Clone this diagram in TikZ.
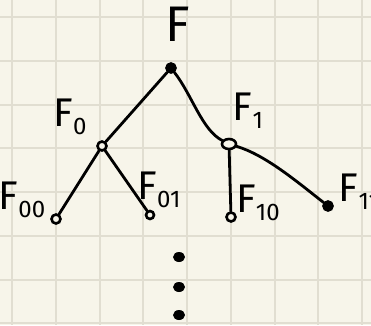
\documentclass[tikz,border=0pt]{standalone}
\usepackage{fontspec}
\setmainfont{Fira Sans}
\usetikzlibrary{shapes.geometric}
\definecolor{paper}{HTML}{F7F5EA}
\definecolor{gridline}{HTML}{E1DED1}
\newcommand{\lowidx}[1]{\raisebox{-0.2em}{\fontsize{24}{24}\selectfont #1}}
\begin{document}
\begin{tikzpicture}[x=1pt,y=-1pt,
  vtx/.style={circle,draw,line width=2.6pt,fill=paper,inner sep=0pt,minimum size=9pt},
  vtxfull/.style={vtx,fill=black},
  dotmark/.style={ellipse,fill=black,inner sep=0pt,minimum width=12pt,minimum height=10pt},
  lbl/.style={inner sep=0pt,font=\fontsize{40}{40}\selectfont},
  edge/.style={line width=2.8pt,line cap=round}]
\useasboundingbox (0,0) rectangle (371,325);
\clip (0,0) rectangle (371,325);
\fill[paper] (0,0) rectangle (371,325);
% squared paper
\foreach \gx in {12.3,56,...,363} \draw[gridline,line width=2pt] (\gx,0) -- (\gx,325);
\foreach \gy in {17.3,61,...,325} \draw[gridline,line width=2pt] (0,\gy) -- (371,\gy);
% vertices
\node[vtxfull] (r) at (171,68) {};
\node[vtx] (n0) at (102,146) {};
\node[vtx,ellipse,minimum width=14pt,minimum height=10pt] (n1) at (229,144) {};
\node[vtx] (n00) at (56,219) {};
\node[vtx,minimum size=8pt] (n01) at (150,215) {};
\node[vtx] (n10) at (231,217) {};
\node[vtxfull] (n11) at (328,206) {};
% labels
\node[lbl,font=\fontsize{50}{50}\selectfont] (lr) at (178,24) {F};
\node[lbl] (l0) at (70,117) {F\lowidx{0}};
\node[lbl] (l1) at (248,111) {F\lowidx{1}};
\node[lbl] (l00) at (22,200) {F\lowidx{00}};
\node[lbl] (l01) at (159,190) {F\lowidx{01}};
\node[lbl] (l10) at (258,203) {F\lowidx{10}};
\node[lbl] (l11) at (359,192) {F\lowidx{11}};
% edges
\draw[edge] (r) -- (n0);
\draw[edge] (r) .. controls (192,95) and (202,130) .. (n1);
\draw[edge] (n0) -- (n00);
\draw[edge] (n0) -- (n01);
\draw[edge] (n1) -- (n10);
\draw[edge] (n1) .. controls (265,155) and (295,180) .. (n11);
% more levels
\node[dotmark] (d1) at (179,257) {};
\node[dotmark] (d2) at (179,287) {};
\node[dotmark] (d3) at (179,315) {};
\end{tikzpicture}
\end{document}
